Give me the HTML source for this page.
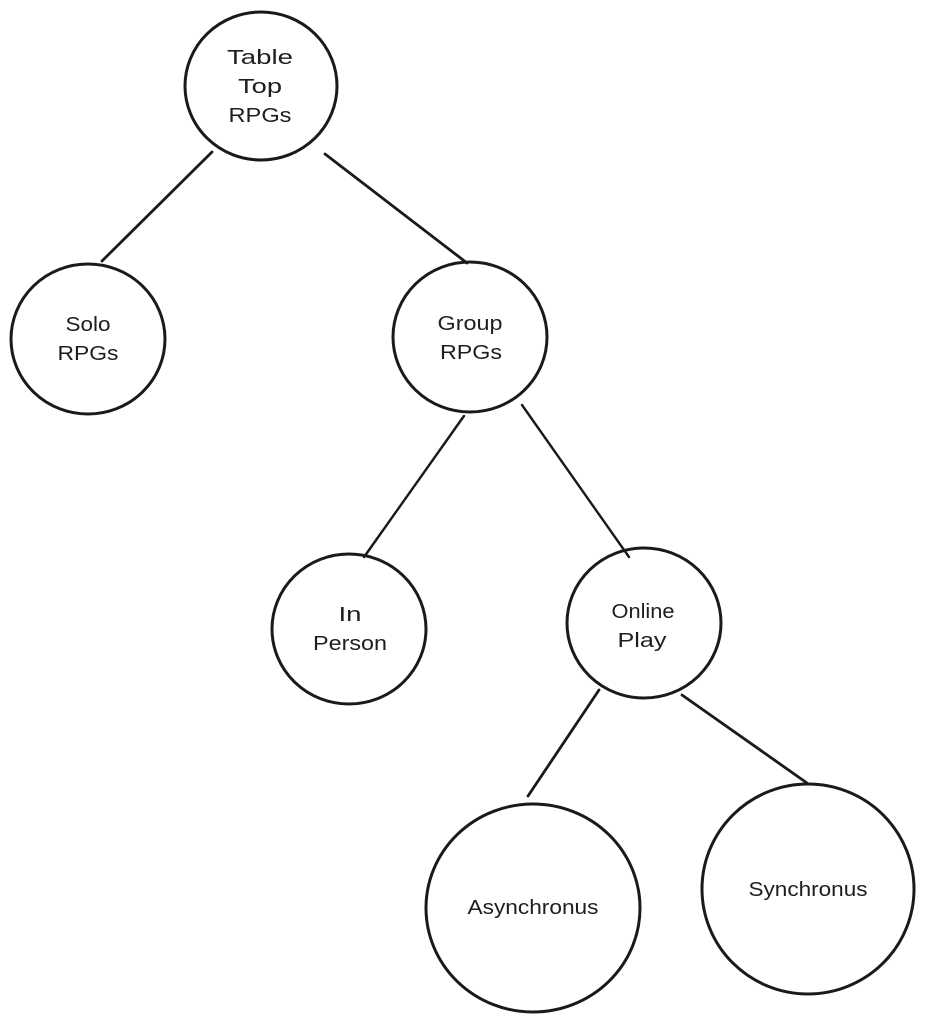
<!DOCTYPE html>
<html>
<head>
<meta charset="utf-8">
<style>
html,body{margin:0;padding:0;background:#fff;}
svg{display:block;}
text{font-family:"Liberation Sans","DejaVu Sans",sans-serif;font-size:20px;fill:#1e1e1e;}
</style>
</head>
<body>
<svg width="925" height="1024" viewBox="0 0 925 1024" xmlns="http://www.w3.org/2000/svg">
<rect width="925" height="1024" fill="#fff"/>
<g fill="none" stroke="#1a1a1a" stroke-linecap="round">
  <!-- connectors -->
  <line x1="212" y1="152" x2="102" y2="261" stroke-width="2.8"/>
  <line x1="325" y1="154" x2="467" y2="263" stroke-width="2.8"/>
  <line x1="464" y1="416" x2="364" y2="557" stroke-width="2.4"/>
  <line x1="462" y1="418" x2="366" y2="555" stroke-width="1.6"/>
  <line x1="522" y1="405" x2="629" y2="557" stroke-width="2.4"/>
  <line x1="599" y1="690" x2="528" y2="796" stroke-width="2.8"/>
  <line x1="682" y1="695" x2="807" y2="783" stroke-width="2.8"/>
  <!-- nodes -->
  <ellipse cx="261" cy="86" rx="76" ry="74" stroke-width="3"/>
  <ellipse cx="88" cy="339" rx="77" ry="75" stroke-width="3"/>
  <ellipse cx="470" cy="337" rx="77" ry="75" stroke-width="3"/>
  <ellipse cx="349" cy="629" rx="77" ry="75" stroke-width="3"/>
  <ellipse cx="644" cy="623" rx="77" ry="75" stroke-width="3"/>
  <ellipse cx="533" cy="908" rx="107" ry="104" stroke-width="3"/>
  <ellipse cx="808" cy="889" rx="106" ry="105" stroke-width="3"/>
</g>
<g text-anchor="middle">
  <text x="260" y="64" textLength="66" lengthAdjust="spacingAndGlyphs">Table</text>
  <text x="260" y="93" textLength="44" lengthAdjust="spacingAndGlyphs">Top</text>
  <text x="260" y="122" textLength="63" lengthAdjust="spacingAndGlyphs">RPGs</text>

  <text x="88" y="331" textLength="45" lengthAdjust="spacingAndGlyphs">Solo</text>
  <text x="88" y="360" textLength="61" lengthAdjust="spacingAndGlyphs">RPGs</text>

  <text x="470" y="330" textLength="65" lengthAdjust="spacingAndGlyphs">Group</text>
  <text x="471" y="359" textLength="62" lengthAdjust="spacingAndGlyphs">RPGs</text>

  <text x="350" y="621" textLength="23" lengthAdjust="spacingAndGlyphs">In</text>
  <text x="350" y="650" textLength="74" lengthAdjust="spacingAndGlyphs">Person</text>

  <text x="643" y="618" textLength="63" lengthAdjust="spacingAndGlyphs">Online</text>
  <text x="642" y="647" textLength="49" lengthAdjust="spacingAndGlyphs">Play</text>

  <text x="533" y="914" textLength="131" lengthAdjust="spacingAndGlyphs">Asynchronus</text>
  <text x="808" y="896" textLength="119" lengthAdjust="spacingAndGlyphs">Synchronus</text>
</g>
</svg>
</body>
</html>
